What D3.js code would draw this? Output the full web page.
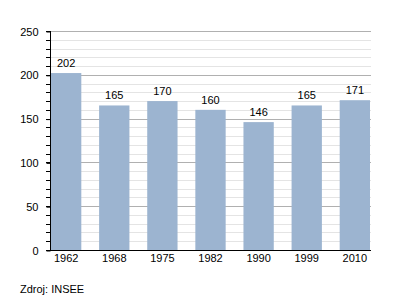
<!DOCTYPE html>
<html><head><meta charset="utf-8">
<script src="https://cdn.jsdelivr.net/npm/d3@7"></script>
<style>body{margin:0;background:#fff}svg{display:block;font-family:"Liberation Sans",Arial,sans-serif}</style>
</head><body><svg id="c" width="400" height="300"></svg>
<script>
const years = ["1962","1968","1975","1982","1990","1999","2010"];
const values = [202,165,170,160,146,165,171];
const yTicks = [0,50,100,150,200,250];
const sourceText = "Zdroj: INSEE";

(function(){
const svg = d3.select("#c");
const mL = 50, mR = 371, mT = 31, mB = 250;
const x = d3.scaleBand().domain(years).range([mL+1, mR-1]).paddingInner(0.37).paddingOuter(0);
const y = d3.scaleLinear().domain([0,250]).range([mB, mT]);

const minor = d3.range(0,251,10).filter(v => v%50 !== 0);
svg.append("g").selectAll("line").data(minor).join("line")
  .attr("x1", mL).attr("x2", mR)
  .attr("y1", d => Math.round(y(d))+0.5).attr("y2", d => Math.round(y(d))+0.5)
  .attr("stroke", "#e4e4e4").attr("stroke-width", 1);
svg.append("g").selectAll("line").data(yTicks.filter(v=>v>0)).join("line")
  .attr("x1", mL).attr("x2", mR)
  .attr("y1", d => Math.round(y(d))+0.5).attr("y2", d => Math.round(y(d))+0.5)
  .attr("stroke", "#b0b0b0").attr("stroke-width", 1);

svg.append("g").selectAll("rect").data(values).join("rect")
  .attr("x", (d,i) => x(years[i])).attr("width", x.bandwidth())
  .attr("y", d => y(d)).attr("height", d => y(0)-y(d))
  .attr("fill", "#9cb4d0");

svg.append("g").selectAll("text").data(values).join("text")
  .attr("x", (d,i) => x(years[i]) + x.bandwidth()/2)
  .attr("y", d => y(d) - 6)
  .attr("text-anchor", "middle").attr("font-size", 11).attr("fill", "#000")
  .text(d => d);

svg.append("g").selectAll("line").data(d3.range(0,251,10)).join("line")
  .attr("x1", mL-4).attr("x2", mL)
  .attr("y1", d => Math.round(y(d))+0.5).attr("y2", d => Math.round(y(d))+0.5)
  .attr("stroke", "#000");

const yAxis = d3.axisLeft(y).tickValues(yTicks).tickSize(4).tickPadding(8);
const gy = svg.append("g").attr("transform", `translate(${mL+0.5},0.5)`).call(yAxis);
gy.select(".domain").remove();
gy.selectAll("text").attr("font-size", 11).attr("font-family", "Liberation Sans, Arial, sans-serif").attr("fill","#000");
svg.append("line").attr("x1", mL+0.5).attr("x2", mL+0.5).attr("y1", mT).attr("y2", mB+1).attr("stroke","#000");

const xAxis = d3.axisBottom(x).tickSize(0).tickPadding(4);
const gx = svg.append("g").attr("transform", `translate(0,${mB+0.5})`).call(xAxis);
gx.select(".domain").remove();
gx.selectAll("text").attr("font-size", 11).attr("font-family", "Liberation Sans, Arial, sans-serif").attr("fill","#000");
svg.append("line").attr("x1", mL).attr("x2", mR).attr("y1", mB+0.5).attr("y2", mB+0.5).attr("stroke","#000");

svg.append("text").attr("x", 20).attr("y", 293).attr("font-size", 11).attr("fill","#000").text(sourceText);
})();
</script></body></html>
